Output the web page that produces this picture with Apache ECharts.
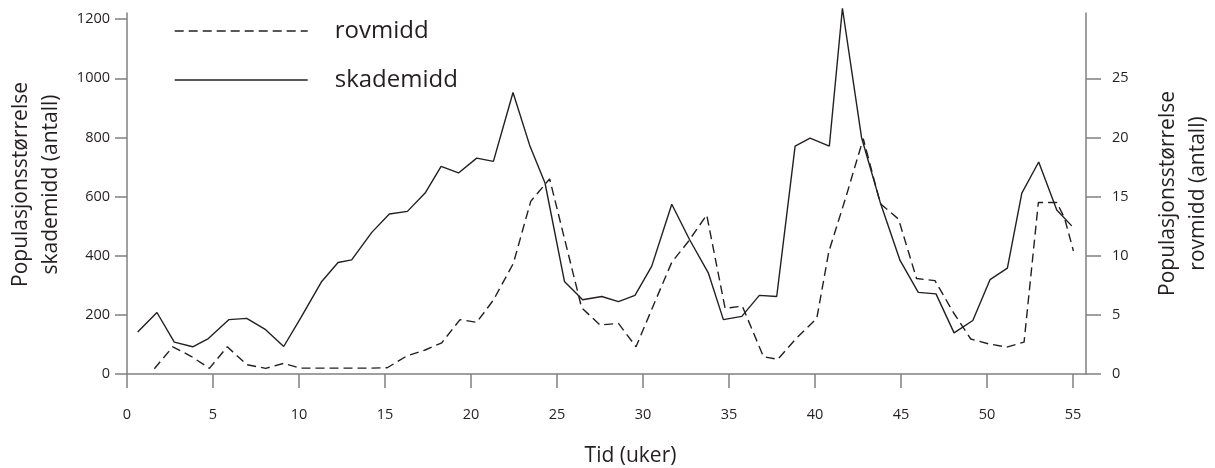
<!DOCTYPE html>
<html>
<head>
<meta charset="utf-8">
<script src="https://cdn.jsdelivr.net/npm/echarts@6/dist/echarts.min.js"></script>
<style>
  html, body { margin: 0; padding: 0; background: #ffffff; }
  #chart { width: 1215px; height: 468px; }
</style>
</head>
<body>
<div id="chart"></div>
<script>
// Tid (uker) for skademidd samples
var weeksSkade = [0.62, 1.74, 2.75, 3.82, 4.73, 5.93, 6.96, 8.06, 9.11, 10.1, 11.32, 12.27, 13.06, 14.23, 15.25, 16.3, 17.33, 18.26, 19.27, 20.33, 21.3, 22.44, 23.43, 24.3, 25.43, 26.49, 27.6, 28.57, 29.53, 30.5, 31.67, 32.7, 33.8, 34.67, 35.74, 36.76, 37.77, 38.84, 39.71, 40.83, 41.59, 42.7, 43.78, 44.94, 46.0, 47.03, 48.08, 49.17, 50.17, 51.18, 52.02, 53.0, 54.05, 54.92];
// skademidd (antall), left axis
var skademidd = [142, 208, 108, 92, 120, 184, 188, 150, 93, 190, 313, 377, 386, 479, 541, 550, 612, 702, 680, 730, 719, 952, 770, 646, 313, 251, 262, 245, 266, 364, 574, 455, 341, 184, 195, 266, 262, 771, 798, 771, 1237, 800, 582, 384, 276, 271, 139, 181, 319, 358, 612, 717, 555, 501];
// Tid (uker) for rovmidd samples
var weeksRov = [1.59, 2.66, 3.72, 4.79, 5.83, 6.96, 8.06, 9.11, 10.06, 11.2, 12.2, 13.15, 14.2, 15.13, 16.26, 17.33, 18.3, 19.36, 20.33, 21.3, 22.46, 23.47, 24.57, 26.43, 27.5, 28.57, 29.59, 30.6, 31.67, 32.63, 33.7, 34.77, 35.77, 37.0, 37.83, 38.9, 40.1, 40.8, 41.8, 42.8, 43.8, 44.85, 45.9, 46.97, 48.04, 49.05, 50.08, 51.15, 52.15, 52.98, 54.05, 54.5, 55.02];
// rovmidd (antall), right axis
var rovmidd = [0.45, 2.3, 1.5, 0.48, 2.3, 0.79, 0.48, 0.9, 0.5, 0.5, 0.5, 0.5, 0.5, 0.53, 1.52, 2.03, 2.64, 4.6, 4.37, 6.25, 9.35, 14.6, 16.5, 5.6, 4.14, 4.28, 2.3, 5.8, 9.45, 11.2, 13.45, 5.55, 5.74, 1.46, 1.24, 3.0, 4.7, 10.35, 15.0, 19.9, 14.4, 13.1, 8.07, 7.9, 5.2, 2.96, 2.55, 2.27, 2.7, 14.5, 14.5, 13.2, 10.4];

var xTicks = [0, 5, 10, 15, 20, 25, 30, 35, 40, 45, 50, 55];
var leftTicks = [0, 200, 400, 600, 800, 1000, 1200];
var rightTicks = [0, 5, 10, 15, 20, 25];

function zip(xs, ys) {
  var out = [];
  for (var i = 0; i < xs.length; i++) out.push([xs[i], ys[i]]);
  return out;
}
function plain(v) { return String(v); }

var FONT = '"Open Sans", "DejaVu Sans", sans-serif';
var INK = '#231f20';
var AXIS = '#808080';
var DASH = [9, 5];

var chart = echarts.init(document.getElementById('chart'), null, { renderer: 'canvas' });

chart.setOption({
  animation: false,
  backgroundColor: '#ffffff',
  textStyle: { fontFamily: FONT },
  grid: { left: 127, right: 129, top: 13, bottom: 94, containLabel: false, outerBoundsMode: 'none' },
  legend: {
    orient: 'vertical',
    left: 169,
    top: 11,
    itemWidth: 133,
    itemHeight: 14,
    itemGap: 19,
    selectedMode: false,
    itemStyle: { opacity: 0, borderWidth: 0 },
    textStyle: { fontFamily: FONT, fontSize: 24, color: INK, lineHeight: 30, padding: [0, 0, 0, 22] },
    data: [
      { name: 'rovmidd', itemStyle: { opacity: 0, borderWidth: 0 }, lineStyle: { width: 1.4, type: DASH, color: INK } },
      { name: 'skademidd', itemStyle: { opacity: 0, borderWidth: 0 }, lineStyle: { width: 1.4, type: 'solid', color: INK } }
    ]
  },
  xAxis: {
    type: 'value',
    min: 0,
    max: 55.75,
    name: 'Tid (uker)',
    nameLocation: 'middle',
    nameGap: 67,
    nameTextStyle: { fontFamily: FONT, fontSize: 21, color: INK, lineHeight: 30, padding: [0, 0, 0, 48] },
    axisLine: { show: true, onZero: false, lineStyle: { color: AXIS, width: 1.5 } },
    axisTick: { show: true, inside: false, length: 14, customValues: xTicks, lineStyle: { color: AXIS, width: 1.5 } },
    axisLabel: { show: true, margin: 33, customValues: xTicks, formatter: plain, fontFamily: FONT, fontSize: 14.5, color: INK },
    splitLine: { show: false }
  },
  yAxis: [
    {
      type: 'value',
      position: 'left',
      min: 0,
      max: 1221,
      name: 'Populasjonsstørrelse\nskademidd (antall)',
      nameLocation: 'middle',
      nameRotate: 90,
      nameGap: 51,
      nameTextStyle: { fontFamily: FONT, fontSize: 21, color: INK, lineHeight: 30, padding: [0, 0, 0, 18] },
      axisLine: { show: true, lineStyle: { color: AXIS, width: 1.5 } },
      axisTick: { show: true, inside: false, length: 12, customValues: leftTicks, lineStyle: { color: AXIS, width: 1.5 } },
      axisLabel: { show: true, margin: 17, customValues: leftTicks, formatter: plain, fontFamily: FONT, fontSize: 14.5, color: INK },
      splitLine: { show: false }
    },
    {
      type: 'value',
      position: 'right',
      min: 0,
      max: 30.525,
      name: 'Populasjonsstørrelse\nrovmidd (antall)',
      nameLocation: 'middle',
      nameRotate: 90,
      nameGap: 67,
      nameTextStyle: { fontFamily: FONT, fontSize: 21, color: INK, lineHeight: 30 },
      axisLine: { show: true, lineStyle: { color: AXIS, width: 1.5 } },
      axisTick: { show: true, inside: false, length: 15, customValues: rightTicks, lineStyle: { color: AXIS, width: 1.5 } },
      axisLabel: { show: true, margin: 26, customValues: rightTicks, formatter: plain, fontFamily: FONT, fontSize: 14.5, color: INK },
      splitLine: { show: false }
    }
  ],
  series: [
    {
      name: 'rovmidd',
      type: 'line',
      yAxisIndex: 1,
      data: zip(weeksRov, rovmidd),
      symbol: 'none',
      showSymbol: false,
      clip: false,
      lineStyle: { color: INK, width: 1.4, type: DASH },
      itemStyle: { color: INK },
      z: 3
    },
    {
      name: 'skademidd',
      type: 'line',
      yAxisIndex: 0,
      data: zip(weeksSkade, skademidd),
      symbol: 'none',
      showSymbol: false,
      clip: false,
      lineStyle: { color: INK, width: 1.4, type: 'solid' },
      itemStyle: { color: INK },
      z: 3
    }
  ]
});
</script>
</body>
</html>
